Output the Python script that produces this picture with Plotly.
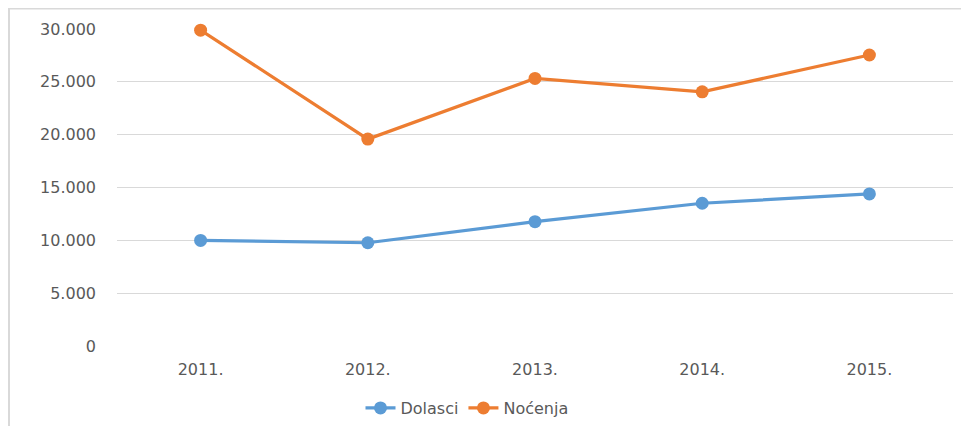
import plotly.graph_objects as go

years = ["2011.", "2012.", "2013.", "2014.", "2015."]
dolasci = [9990, 9770, 11770, 13510, 14390]
nocenja = [29890, 19580, 25320, 24050, 27540]
y_ticks = [0, 5000, 10000, 15000, 20000, 25000, 30000]
y_tick_labels = ["0", "5.000", "10.000", "15.000", "20.000", "25.000", "30.000"]

# the page body has an 8px default margin, so the figure is sized to fit inside it
OFF = 8
W, H = 969 - 2 * OFF, 434 - 2 * OFF
L, T = 117 - OFF, 29 - OFF
R = W - (953 - OFF)
B = H - (346 - OFF)
pw = W - L - R
ph = H - T - B

def px_x(p):
    return (p - OFF - L) / pw

def px_y(p):
    return (H - B - (p - OFF)) / ph

fig = go.Figure()
fig.add_trace(go.Scatter(
    x=years, y=dolasci, name="Dolasci", mode="lines+markers",
    line=dict(color="#5b9bd5", width=3.2),
    marker=dict(size=13, color="#5b9bd5"),
    cliponaxis=False,
))
fig.add_trace(go.Scatter(
    x=years, y=nocenja, name="Noćenja", mode="lines+markers",
    line=dict(color="#ed7d31", width=3.2),
    marker=dict(size=13, color="#ed7d31"),
    cliponaxis=False,
))

fig.add_shape(type="rect", xref="paper", yref="paper",
              x0=px_x(9), x1=px_x(1000), y0=px_y(480), y1=px_y(8.5),
              line=dict(color="#d9d9d9", width=2), fillcolor="rgba(0,0,0,0)", layer="below")

fig.update_layout(
    width=W, height=H,
    margin=dict(l=L, r=R, t=T, b=B, pad=0, autoexpand=False),
    paper_bgcolor="white", plot_bgcolor="white",
    font=dict(family="DejaVu Sans", size=16, color="#595959"),
    showlegend=True,
    legend=dict(orientation="h",
                xref="container", x=(467 - OFF) / W, xanchor="center",
                yref="container", y=(H - (408 - OFF)) / H, yanchor="middle",
                font=dict(size=16, color="#595959"),
                bgcolor="rgba(0,0,0,0)"),
    xaxis=dict(range=[-0.5, 4.5], showgrid=False, zeroline=False, showline=False,
               ticks="", ticklabelstandoff=12, fixedrange=True, automargin=False),
    yaxis=dict(range=[0, 30000], tickvals=y_ticks, ticktext=y_tick_labels,
               showgrid=True, gridcolor="#d9d9d9", gridwidth=1,
               zeroline=False, showline=False, ticks="",
               ticklabelstandoff=20, automargin=False),
)

fig.write_html("out.html")
